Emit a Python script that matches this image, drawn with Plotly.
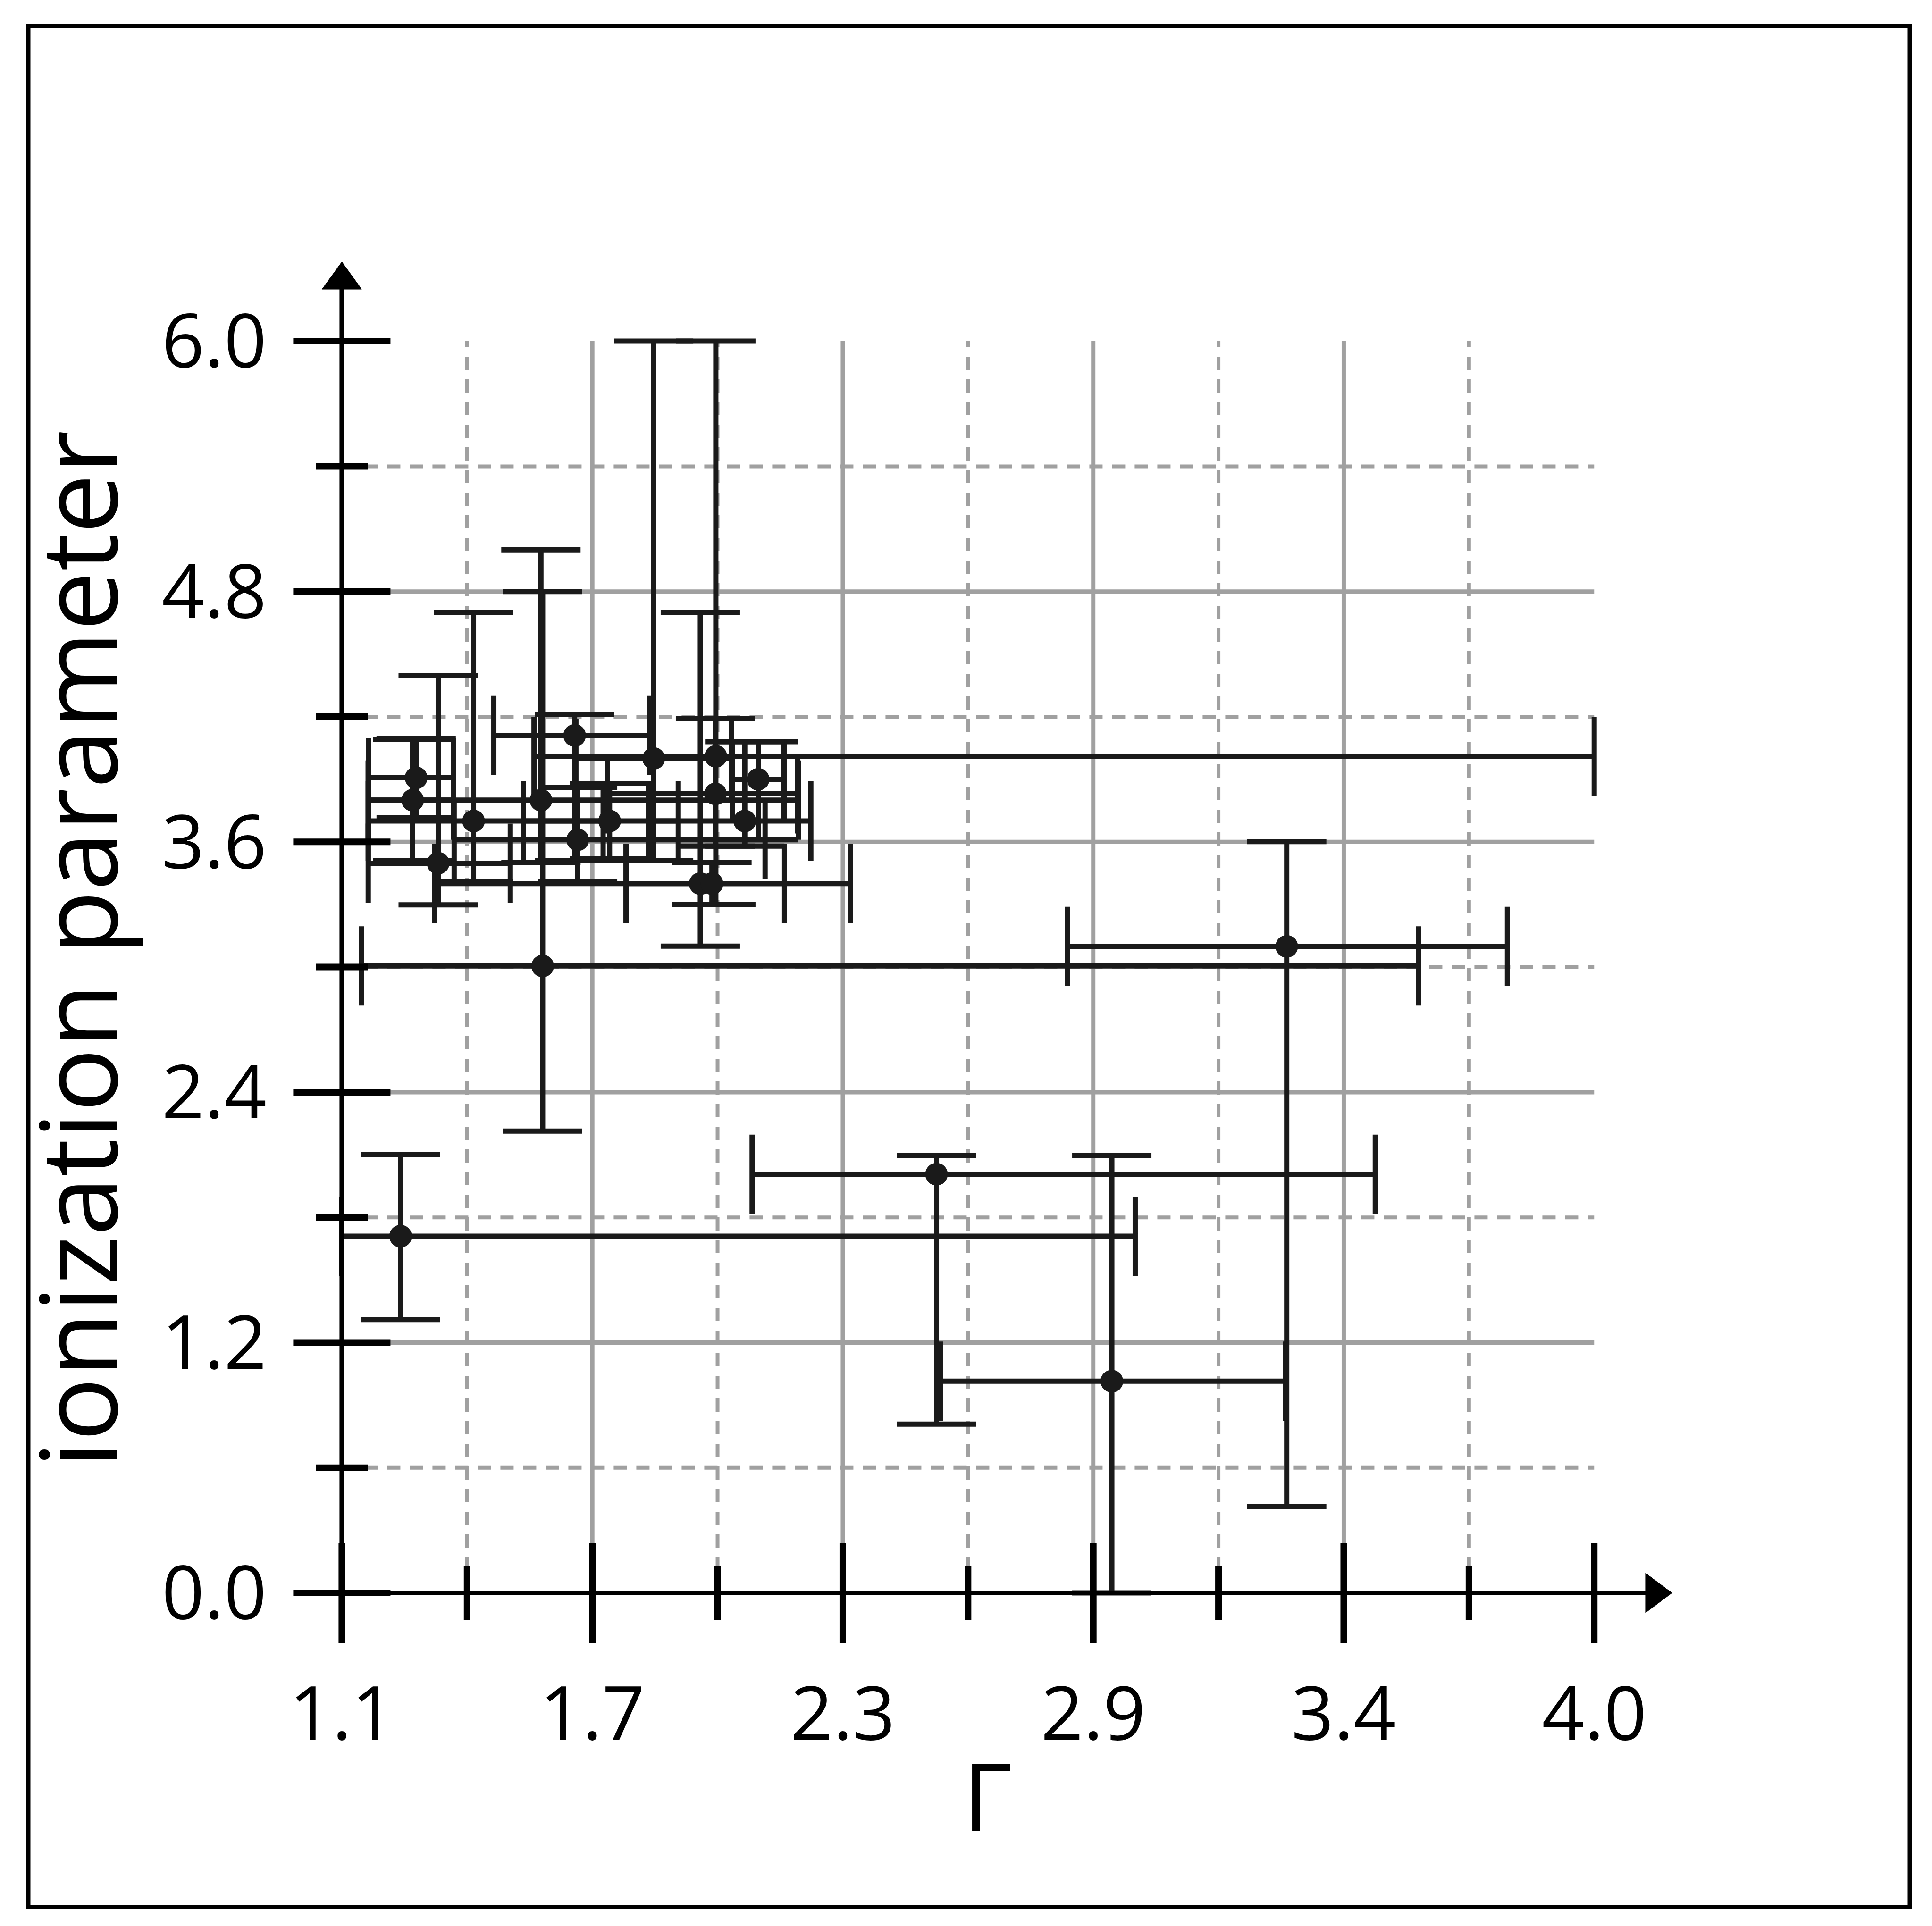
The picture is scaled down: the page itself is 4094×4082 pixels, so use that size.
import plotly.graph_objects as go

# photon index (Gamma) and ionization parameter
gamma = [1.236, 2.477, 2.883, 3.288, 1.565, 1.561, 1.822, 1.966, 1.930, 1.957,
         1.405, 1.323, 1.272, 1.264, 1.639, 1.646, 1.720, 1.965, 2.064, 2.033]
gamma_minus = [0.136, 0.427, 0.397, 0.508, 0.420, 0.400, 0.180, 0.421, 0.615, 0.199,
               0.244, 0.162, 0.110, 0.103, 0.187, 0.286, 0.200, 0.250, 0.060, 0.223]
gamma_plus = [1.701, 1.016, 0.402, 0.511, 2.028, 0.596, 0.180, 2.034, 0.195, 0.320,
              0.300, 0.167, 0.086, 0.094, 0.174, 0.434, 0.159, 0.190, 0.060, 0.153]
xi = [1.710, 2.007, 1.015, 3.099, 3.005, 3.800, 4.000, 4.010, 3.400, 3.400,
      3.700, 3.498, 3.907, 3.800, 4.110, 3.610, 3.700, 3.830, 3.900, 3.700]
xi_minus = [0.400, 1.198, 1.015, 2.686, 0.791, 0.300, 0.490, 0.710, 0.300, 0.100,
            0.290, 0.200, 0.190, 0.290, 0.600, 0.200, 0.180, 0.250, 0.290, 0.120]
xi_plus = [0.390, 0.089, 1.081, 0.502, 1.795, 1.200, 2.000, 1.990, 1.300, 0.100,
           1.000, 0.900, 0.190, 0.290, 0.100, 0.250, 0.180, 0.360, 0.180, 0.380]

x_ticks = [1.1, 1.68, 2.26, 2.84, 3.42, 4.0]
x_labels = ["1.1", "1.7", "2.3", "2.9", "3.4", "4.0"]
x_minor = [1.39, 1.97, 2.55, 3.13, 3.71]
y_ticks = [0.0, 1.2, 2.4, 3.6, 4.8, 6.0]
y_labels = ["0.0", "1.2", "2.4", "3.6", "4.8", "6.0"]
y_minor = [0.6, 1.8, 3.0, 4.2, 5.4]

W, H = 4094, 4082
L, R, T, B = 570, 495, 494, 568
INK = "#1a1a1a"
GRID = "#a0a0a0"


def paper_x(px):
    return (px - L) / (W - L - R)


def paper_y(py):
    return (H - B - py) / (H - T - B)


x0, x1 = x_ticks[0], x_ticks[-1]
y0, y1 = y_ticks[0], y_ticks[-1]

shapes = []

# grid: solid on major ticks, dashed on minor ticks, inside the data box only
for v in x_ticks[1:-1]:
    shapes.append(dict(type="line", xref="x", yref="y", x0=v, x1=v, y0=y0, y1=y1,
                       line=dict(color=GRID, width=9), layer="below"))
for v in x_minor:
    shapes.append(dict(type="line", xref="x", yref="y", x0=v, x1=v, y0=y0, y1=y1,
                       line=dict(color=GRID, width=8, dash="28px,20px"), layer="below"))
for v in y_ticks[1:-1]:
    shapes.append(dict(type="line", xref="x", yref="y", x0=x0, x1=x1, y0=v, y1=v,
                       line=dict(color=GRID, width=9), layer="below"))
for v in y_minor:
    shapes.append(dict(type="line", xref="x", yref="y", x0=x0, x1=x1, y0=v, y1=v,
                       line=dict(color=GRID, width=8, dash="28px,20px"), layer="below"))

# axis lines with arrow heads
shapes.append(dict(type="line", xref="x", yref="y", x0=0.994, x1=4.15, y0=y0, y1=y0,
                   line=dict(color="black", width=10)))
shapes.append(dict(type="line", xref="x", yref="y", x0=x0, x1=x0, y0=-0.21, y1=6.3,
                   line=dict(color="black", width=10)))
shapes.append(dict(type="path", xref="x", yref="y", xsizemode="pixel", ysizemode="pixel",
                   xanchor=4.18, yanchor=y0, path="M-56,42 L0,0 L-56,-42 Z",
                   fillcolor="black", line=dict(color="black", width=1)))
shapes.append(dict(type="path", xref="x", yref="y", xsizemode="pixel", ysizemode="pixel",
                   xanchor=x0, yanchor=6.38, path="M-42,-58 L0,0 L42,-58 Z",
                   fillcolor="black", line=dict(color="black", width=1)))

# ticks crossing the axes
for v in y_ticks:
    shapes.append(dict(type="line", xref="x", yref="y", xsizemode="pixel", xanchor=x0,
                       x0=-103, x1=103, y0=v, y1=v, line=dict(color="black", width=14)))
for v in y_minor:
    shapes.append(dict(type="line", xref="x", yref="y", xsizemode="pixel", xanchor=x0,
                       x0=-55, x1=55, y0=v, y1=v, line=dict(color="black", width=14)))
for v in x_ticks:
    shapes.append(dict(type="line", xref="x", yref="y", ysizemode="pixel", yanchor=y0,
                       y0=-106, y1=106, x0=v, x1=v, line=dict(color="black", width=14)))
for v in x_minor:
    shapes.append(dict(type="line", xref="x", yref="y", ysizemode="pixel", yanchor=y0,
                       y0=-58, y1=58, x0=v, x1=v, line=dict(color="black", width=14)))

# outer frame
shapes.append(dict(type="rect", xref="paper", yref="paper",
                   x0=paper_x(52), x1=paper_x(4039), y0=paper_y(4034), y1=paper_y(47),
                   line=dict(color="black", width=9)))

fig = go.Figure(go.Scatter(
    x=gamma, y=xi, mode="markers",
    marker=dict(symbol="circle", size=48, color=INK, line=dict(width=0)),
    error_x=dict(type="data", symmetric=False, array=gamma_plus, arrayminus=gamma_minus,
                 color=INK, thickness=11, width=84),
    error_y=dict(type="data", symmetric=False, array=xi_plus, arrayminus=xi_minus,
                 color=INK, thickness=11, width=84),
    showlegend=False,
))

fig.update_layout(
    width=W, height=H,
    margin=dict(l=L, r=R, t=T, b=B),
    paper_bgcolor="white", plot_bgcolor="white",
    font=dict(family="Open Sans", color="black"),
    shapes=shapes,
)
fig.update_xaxes(range=[0.94, 4.25], tickvals=x_ticks, ticktext=x_labels,
                 tickfont=dict(size=158), ticks="", ticklabelstandoff=6,
                 showgrid=False, zeroline=False, showline=False,
                 title=dict(text="Γ", font=dict(size=200), standoff=8))
fig.update_yaxes(range=[-0.33, 6.5], tickvals=y_ticks, ticktext=y_labels,
                 tickfont=dict(size=158), ticks="", ticklabelstandoff=12,
                 showgrid=False, zeroline=False, showline=False,
                 title=dict(text="ionization parameter", font=dict(size=225), standoff=56))

fig.write_html("out.html")
